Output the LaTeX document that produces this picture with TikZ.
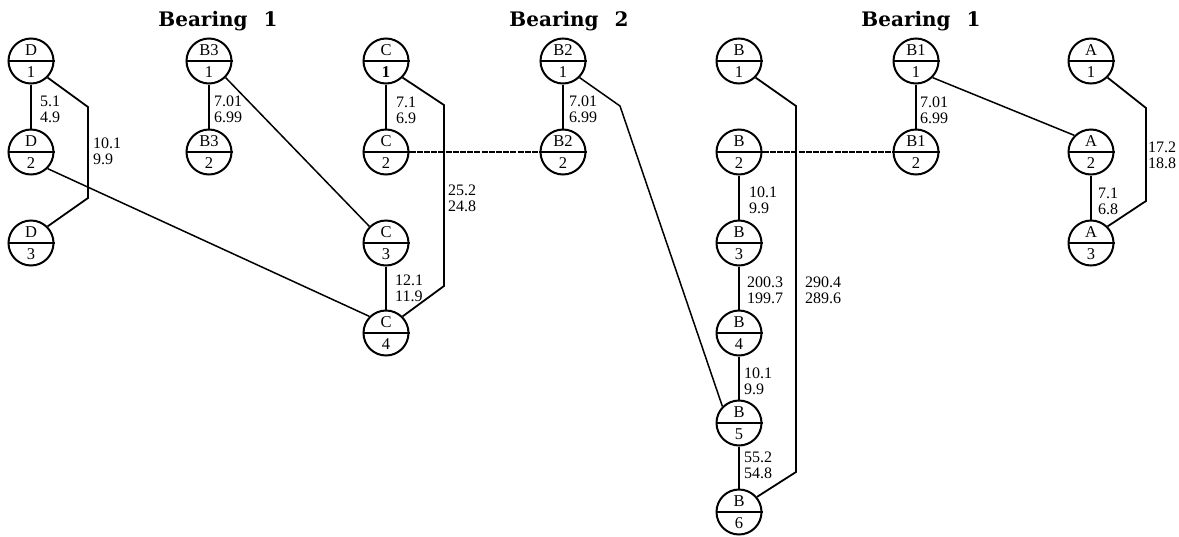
\documentclass[tikz,border=0pt]{standalone}
\usepackage{fontspec}
\setmainfont{Liberation Serif}
\newfontfamily\titlefont{DejaVu Serif}
\usetikzlibrary{calc}
\tikzset{
  bc/.style={draw, circle, minimum size=45pt, inner sep=0pt, line width=2pt},
  divl/.style={line width=1.8pt},
  ln/.style={line width=1.8pt, line join=miter},
  xl/.style={line width=1.5pt},
  hl/.style={line width=1.6pt, dash pattern=on 6pt off 1.2pt},
  ntext/.style={font=\fontsize{16.5}{17}\selectfont, inner sep=0pt},
  lab/.style={font=\fontsize{16}{16}\selectfont, align=left, anchor=west, inner sep=0pt},
  ttl/.style={font=\titlefont\bfseries\fontsize{20}{22}\selectfont, inner sep=0pt},
}
\newcommand\bnode[5]{%
  \node[bc] (#1) at (#2,#3) {};
  \draw[divl] (#1.west) -- (#1.east);
  \node[ntext] (#1t) at ([yshift=10.5pt]#1.center) {#4};
  \node[ntext] (#1b) at ([yshift=-11pt]#1.center) {#5};
}
\begin{document}
\begin{tikzpicture}[x=1pt, y=-1pt]
\useasboundingbox (0,0) rectangle (1179,536);

% titles
\node[ttl] (T1) at (218,21) {Bearing\hspace{0.8em}1};
\node[ttl] (T2) at (569,21) {Bearing\hspace{0.8em}2};
\node[ttl] (T3) at (921,21) {Bearing\hspace{0.8em}1};

% nodes
\bnode{D1}{31}{61}{D}{1}
\bnode{D2}{31}{152}{D}{2}
\bnode{D3}{31}{243}{D}{3}
\bnode{Ba1}{209}{61}{B3}{1}
\bnode{Ba2}{209}{152}{B3}{2}
\bnode{C1}{386}{61}{C}{\textbf{1}}
\bnode{C2}{386}{152}{C}{2}
\bnode{C3}{386}{243}{C}{3}
\bnode{C4}{386}{333}{C}{4}
\bnode{Bb1}{563}{61}{B2}{1}
\bnode{Bb2}{563}{152}{B2}{2}
\bnode{B1}{739}{61}{B}{1}
\bnode{B2}{739}{152}{B}{2}
\bnode{B3}{739}{243}{B}{3}
\bnode{B4}{739}{333}{B}{4}
\bnode{B5}{739}{423}{B}{5}
\bnode{B6}{739}{512}{B}{6}
\bnode{Bc1}{916}{61}{B1}{1}
\bnode{Bc2}{916}{152}{B1}{2}
\bnode{A1}{1091}{61}{A}{1}
\bnode{A2}{1091}{152}{A}{2}
\bnode{A3}{1091}{243}{A}{3}

% bypass corners
\coordinate (Dt) at ($(D1)+(57,46)$);
\coordinate (Db) at ($(D3)+(57,-45)$);
\coordinate (Ct) at ($(C1)+(58,44)$);
\coordinate (Cb) at ($(C4)+(58,-47)$);
\coordinate (Bt) at ($(B1)+(57,45)$);
\coordinate (Bb) at ($(B6)+(57,-40)$);
\coordinate (At) at ($(A1)+(55,47)$);
\coordinate (Ab) at ($(A3)+(55,-42)$);
\coordinate (B2t) at ($(Bb1)+(57,45)$);

% vertical edges
\draw[ln] (D1) -- (D2);
\draw[ln] (Ba1) -- (Ba2);
\draw[ln] (C1) -- (C2);
\draw[ln] (C3) -- (C4);
\draw[ln] (Bb1) -- (Bb2);
\draw[ln] (B2) -- (B3);
\draw[ln] (B3) -- (B4);
\draw[ln] (B4) -- (B5);
\draw[ln] (B5) -- (B6);
\draw[ln] (Bc1) -- (Bc2);
\draw[ln] (A2) -- (A3);

% bypass lines
\draw[ln] (D1.-45) -- (Dt) -- (Db) -- (D3.45);
\draw[ln] (C1.-45) -- (Ct) -- (Cb) -- (C4.45);
\draw[ln] (B1.-45) -- (Bt) -- (Bb) -- (B6.40);
\draw[ln] (A1.-45) -- (At) -- (Ab) -- (A3.45);

% cross links
\draw[xl] (D2.-45) -- (C4.135);
\draw[xl] (Ba1.-45) -- (C3.135);
\draw[xl] (Bb1.-45) -- (B2t) -- (B5.135);
\draw[xl] (Bc1.-45) -- (A2.135);
\draw[hl] (C2.east) -- (Bb2.west);
\draw[hl] (B2.east) -- (Bc2.west);

% labels
\node[lab] (L1) at (40,109) {5.1\\4.9};
\node[lab] (L2) at (93,151) {10.1\\9.9};
\node[lab] (L3) at (214,109) {7.01\\6.99};
\node[lab] (L4) at (396,110) {7.1\\6.9};
\node[lab] (L5) at (448,198) {25.2\\24.8};
\node[lab] (L6) at (395,288) {12.1\\11.9};
\node[lab] (L7) at (569,109) {7.01\\6.99};
\node[lab] (L8) at (749,200) {10.1\\9.9};
\node[lab] (L9) at (747,290) {200.3\\199.7};
\node[lab] (L10) at (805,290) {290.4\\289.6};
\node[lab] (L11) at (744,381) {10.1\\9.9};
\node[lab] (L12) at (744,465) {55.2\\54.8};
\node[lab] (L13) at (920,110) {7.01\\6.99};
\node[lab] (L14) at (1098,201) {7.1\\6.8};
\node[lab] (L15) at (1148,155) {17.2\\18.8};
\end{tikzpicture}
\end{document}
